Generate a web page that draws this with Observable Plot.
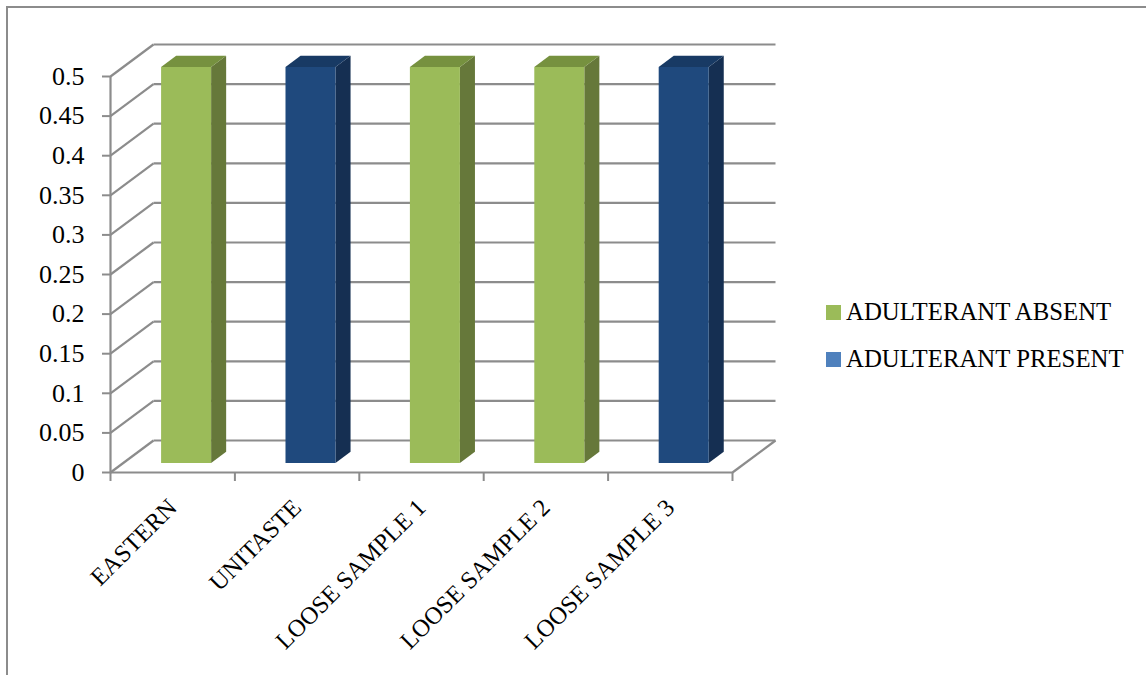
<!DOCTYPE html>
<html><head><meta charset="utf-8">
<script src="https://cdn.jsdelivr.net/npm/d3@7"></script>
<script src="https://cdn.jsdelivr.net/npm/@observablehq/plot@0.6"></script>
<style>
html,body{margin:0;padding:0;background:#fff;overflow:hidden}
#wrap{position:relative;width:1146px;height:675px}
#frame{position:absolute;left:6px;top:6px;right:-4px;bottom:-4px;border:2px solid #8c8c8c}
#chart{position:absolute;left:0;top:0}
.legend{position:absolute;left:826px;font:24.8px "Liberation Serif",serif;color:#000;white-space:nowrap;display:flex;align-items:center;gap:5px}
.legend i{display:inline-block;width:15px;height:15px}
</style></head><body>
<div id="wrap"><div id="frame"></div><div id="chart"></div>
<div class="legend" style="top:298px"><i style="background:#9BBB59"></i>ADULTERANT ABSENT</div>
<div class="legend" style="top:345px"><i style="background:#4F81BD"></i>ADULTERANT PRESENT</div>
</div>
<script>
const categories = ["EASTERN","UNITASTE","LOOSE SAMPLE 1","LOOSE SAMPLE 2","LOOSE SAMPLE 3"];
const absent  = [0.5,0,0.5,0.5,0];
const present = [0,0.5,0,0,0.5];
const yTicks = [0,0.05,0.1,0.15,0.2,0.25,0.3,0.35,0.4,0.45,0.5];
const xTicks = [0,1,2,3,4,5];
const palette = {
  absent:  {front:"#9BBB59",side:"#66783A",top:"#76913F"},
  present: {front:"#1F497D",side:"#152F52",top:"#183A64"}
};
// oblique projection: depth 0..1 shifts by a fixed amount in data units
const depthX = 0.3457, depthY = 0.0404;
const P = (u,v,d) => ({x:u+d*depthX, y:v+d*depthY});
const d0 = 0.3, d1 = 0.65;
const faces = [];
categories.forEach((c,i)=>{
  const isAbsent = absent[i] > 0;
  const v = isAbsent ? absent[i] : present[i];
  const pal = isAbsent ? palette.absent : palette.present;
  const l = i+0.303, r = i+0.705;
  const add = (name,col,pts)=>pts.forEach(p=>faces.push({...p,id:c+name,col}));
  add("side",pal.side,[P(r,0,d0),P(r,0,d1),P(r,v,d1),P(r,v,d0)]);
  add("top",pal.top,[P(l,v,d0),P(l,v,d1),P(r,v,d1),P(r,v,d0)]);
  add("front",pal.front,[P(l,0,d0),P(r,0,d0),P(r,v,d0),P(l,v,d0)]);
});
const grid = "#8c8c8c";
const plot = Plot.plot({
  width:1146,height:675,
  marginLeft:110,marginRight:414,marginTop:76,marginBottom:203,
  style:{fontFamily:'"Liberation Serif",serif',background:"transparent"},
  x:{domain:[0,5]},
  y:{domain:[0,0.5]},
  color:{type:"identity"},
  marks:[
    Plot.link(yTicks,{x1:0,y1:d=>d,x2:depthX,y2:d=>d+depthY,stroke:grid,strokeWidth:2.2}),
    Plot.link(yTicks,{x1:depthX,y1:d=>d+depthY,x2:5+depthX,y2:d=>d+depthY,stroke:grid,strokeWidth:2.2}),
    Plot.link([0],{x1:5,y1:0,x2:5+depthX,y2:depthY,stroke:grid,strokeWidth:2.2}),
    Plot.ruleX([0],{stroke:grid,strokeWidth:2.2}),
    Plot.ruleY([0],{stroke:grid,strokeWidth:2.2}),
    Plot.axisY({ticks:yTicks,tickFormat:d=>String(d),tickSize:8,tickPadding:18,fontSize:26,stroke:grid,strokeWidth:2,fill:"#000",label:null}),
    Plot.axisX({ticks:xTicks,tickFormat:()=>"",tickSize:9,stroke:grid,strokeWidth:2,label:null}),
    Plot.line(faces,{x:"x",y:"y",z:"id",fill:"col",stroke:null,curve:"linear-closed"}),
    Plot.text(categories,{x:(d,i)=>i+0.5,y:()=>0,text:d=>d,rotate:-45,textAnchor:"end",lineAnchor:"middle",dx:0,dy:31,fontSize:24.5,fill:"#000"})
  ]
});
document.getElementById("chart").appendChild(plot);
</script></body></html>
